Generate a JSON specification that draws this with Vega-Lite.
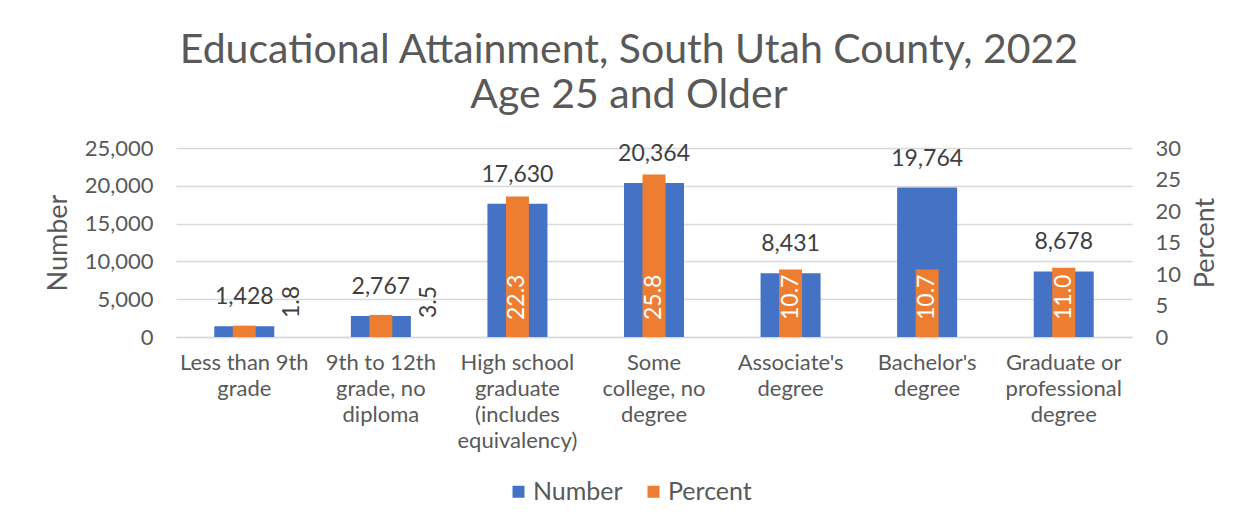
{
  "$schema": "https://vega.github.io/schema/vega-lite/v6.json",
  "width": 956,
  "height": 189,
  "autosize": {"type": "none"},
  "padding": {"left": 176, "top": 148, "right": 121, "bottom": 194},
  "background": "white",
  "title": {
    "text": ["Educational Attainment, South Utah County, 2022", "Age 25 and Older"],
    "font": "Lato",
    "fontSize": 41,
    "fontWeight": "normal",
    "color": "#595959",
    "lineHeight": 45,
    "anchor": "middle",
    "dx": -25,
    "offset": 20
  },
  "config": {
    "font": "Lato",
    "view": {"stroke": null},
    "axis": {"labelColor": "#595959", "titleColor": "#595959", "titleFontWeight": "normal", "ticks": false}
  },
  "data": {
    "values": [
      {"Category": "Less than 9th grade", "Number": 1428, "Percent": 1.8},
      {"Category": "9th to 12th grade, no diploma", "Number": 2767, "Percent": 3.5},
      {"Category": "High school graduate (includes equivalency)", "Number": 17630, "Percent": 22.3},
      {"Category": "Some college, no degree", "Number": 20364, "Percent": 25.8},
      {"Category": "Associate's degree", "Number": 8431, "Percent": 10.7},
      {"Category": "Bachelor's degree", "Number": 19764, "Percent": 10.7},
      {"Category": "Graduate or professional degree", "Number": 8678, "Percent": 11.0}
    ]
  },
  "encoding": {
    "x": {
      "field": "Category",
      "type": "nominal",
      "sort": null,
      "scale": {"paddingInner": 0, "paddingOuter": 0},
      "axis": {
        "title": null,
        "labelAngle": 0,
        "labelFontSize": 22,
        "labelLineHeight": 26,
        "labelPadding": 15,
        "labelBaseline": "top",
        "labelLimit": 0,
        "domainColor": "#D9D9D9",
        "domainWidth": 1.5,
        "labelExpr": "{'Less than 9th grade': ['Less than 9th', 'grade'], '9th to 12th grade, no diploma': ['9th to 12th', 'grade, no', 'diploma'], 'High school graduate (includes equivalency)': ['High school', 'graduate', '(includes', 'equivalency)'], 'Some college, no degree': ['Some', 'college, no', 'degree'], \"Associate's degree\": [\"Associate's\", 'degree'], \"Bachelor's degree\": [\"Bachelor's\", 'degree'], 'Graduate or professional degree': ['Graduate or', 'professional', 'degree']}[datum.value]"
      }
    }
  },
  "layer": [
    {
      "layer": [
        {
          "mark": {"type": "bar", "width": 60},
          "encoding": {
            "y": {
              "field": "Number",
              "type": "quantitative",
              "scale": {"domain": [0, 25000], "nice": false},
              "axis": {
                "orient": "left",
                "title": "Number",
                "titleFontSize": 27,
                "titlePadding": 12,
                "values": [0, 5000, 10000, 15000, 20000, 25000],
                "labelExpr": "format(datum.value, ',')",
                "labelFontSize": 22,
                "labelPadding": 23,
                "domain": false,
                "gridColor": "#D9D9D9",
                "gridWidth": 1.5
              }
            },
            "color": {
              "datum": "Number",
              "type": "nominal",
              "scale": {"domain": ["Number", "Percent"], "range": ["#4472C4", "#ED7D31"]},
              "legend": {
                "title": null,
                "orient": "none",
                "legendX": 330,
                "legendY": 331,
                "direction": "horizontal",
                "symbolType": "square",
                "symbolSize": 144,
                "symbolStrokeWidth": 0,
                "labelFontSize": 25,
                "labelColor": "#595959",
                "labelOffset": 2,
                "columnPadding": 18
              }
            }
          }
        },
        {
          "mark": {"type": "text", "baseline": "bottom", "dy": -17, "fontSize": 23, "color": "#404040"},
          "encoding": {
            "y": {
              "field": "Number",
              "type": "quantitative",
              "scale": {"domain": [0, 25000], "nice": false},
              "axis": {
                "orient": "left",
                "title": "Number",
                "titleFontSize": 27,
                "titlePadding": 12,
                "values": [0, 5000, 10000, 15000, 20000, 25000],
                "labelExpr": "format(datum.value, ',')",
                "labelFontSize": 22,
                "labelPadding": 23,
                "domain": false,
                "gridColor": "#D9D9D9",
                "gridWidth": 1.5
              }
            },
            "text": {"field": "Number", "type": "quantitative", "format": ","}
          }
        }
      ]
    },
    {
      "layer": [
        {
          "mark": {"type": "bar", "width": 23},
          "encoding": {
            "y": {
              "field": "Percent",
              "type": "quantitative",
              "scale": {"domain": [0, 30], "nice": false},
              "axis": {
                "orient": "right",
                "title": "Percent",
                "titleFontSize": 27,
                "titleAngle": 270,
                "titleBaseline": "top",
                "titlePadding": 12,
                "values": [0, 5, 10, 15, 20, 25, 30],
                "labelExpr": "format(datum.value, 'd')",
                "labelFontSize": 22,
                "labelPadding": 23,
                "domain": false,
                "grid": false
              }
            },
            "color": {"datum": "Percent", "type": "nominal"}
          }
        },
        {
          "transform": [{"filter": "datum.Percent >= 5"}],
          "mark": {"type": "text", "angle": 270, "align": "left", "baseline": "middle", "dx": 17, "fontSize": 23, "color": "white"},
          "encoding": {
            "y": {
              "datum": 0,
              "type": "quantitative",
              "scale": {"domain": [0, 30], "nice": false},
              "axis": {
                "orient": "right",
                "title": "Percent",
                "titleFontSize": 27,
                "titleAngle": 270,
                "titleBaseline": "top",
                "titlePadding": 12,
                "values": [0, 5, 10, 15, 20, 25, 30],
                "labelExpr": "format(datum.value, 'd')",
                "labelFontSize": 22,
                "labelPadding": 23,
                "domain": false,
                "grid": false
              }
            },
            "text": {"field": "Percent", "type": "quantitative", "format": ".1f"}
          }
        },
        {
          "transform": [{"filter": "datum.Percent < 5"}],
          "mark": {"type": "text", "angle": 270, "align": "left", "baseline": "middle", "dx": 19, "dy": 48, "fontSize": 23, "color": "#404040"},
          "encoding": {
            "y": {
              "datum": 0,
              "type": "quantitative",
              "scale": {"domain": [0, 30], "nice": false},
              "axis": {
                "orient": "right",
                "title": "Percent",
                "titleFontSize": 27,
                "titleAngle": 270,
                "titleBaseline": "top",
                "titlePadding": 12,
                "values": [0, 5, 10, 15, 20, 25, 30],
                "labelExpr": "format(datum.value, 'd')",
                "labelFontSize": 22,
                "labelPadding": 23,
                "domain": false,
                "grid": false
              }
            },
            "text": {"field": "Percent", "type": "quantitative", "format": ".1f"}
          }
        }
      ]
    }
  ],
  "resolve": {"scale": {"y": "independent"}}
}
